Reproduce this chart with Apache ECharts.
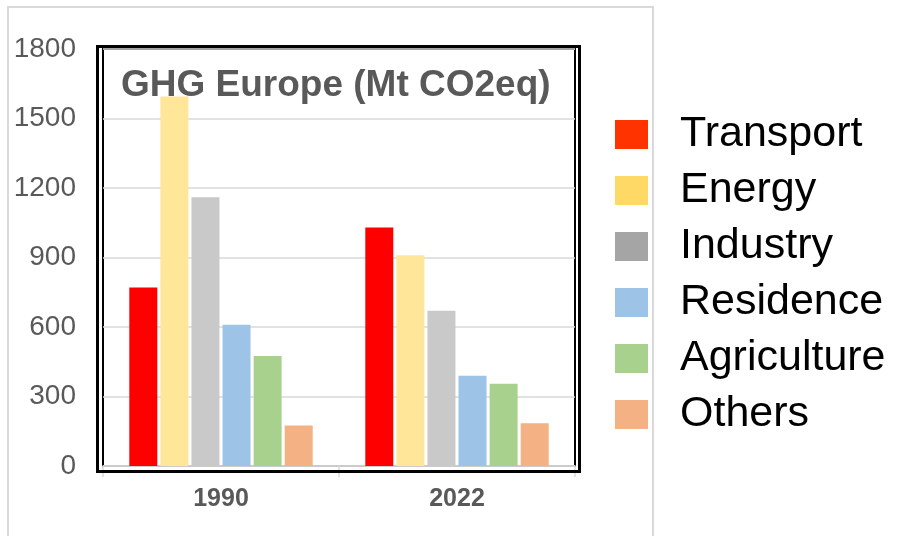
<!DOCTYPE html>
<html>
<head>
<meta charset="utf-8">
<script src="https://cdn.jsdelivr.net/npm/echarts@6/dist/echarts.min.js"></script>
<style>
  html, body { margin: 0; padding: 0; background: #fff; }
  #main { width: 899px; height: 536px; }
</style>
</head>
<body>
<div id="main"></div>
<script>
const years = ['1990', '2022']
const sectors = ['Transport', 'Energy', 'Industry', 'Residence', 'Agriculture', 'Others']
const transport = [770, 1030]
const energy = [1595, 910]
const industry = [1160, 670]
const residence = [610, 390]
const agriculture = [475, 355]
const others = [175, 185]
const yTicks = [0, 300, 600, 900, 1200, 1500, 1800]

const barColors = ['#FF0000', '#FFE699', '#C9C9C9', '#9DC3E6', '#A9D18E', '#F4B183']
const legendColors = ['#FF3300', '#FFD966', '#A5A5A5', '#9DC3E6', '#A9D18E', '#F4B183']
const values = [transport, energy, industry, residence, agriculture, others]

const chart = echarts.init(document.getElementById('main'))
const font = '"Liberation Sans", Arial, sans-serif'

chart.setOption({
  backgroundColor: '#fff',
  animation: false,
  textStyle: { fontFamily: font },
  title: {
    text: 'GHG Europe (Mt CO2eq)',
    left: 121,
    top: 67,
    padding: 0,
    textStyle: { fontFamily: font, fontSize: 37, fontWeight: 'bold', color: '#595959' }
  },
  legend: {
    orient: 'vertical',
    left: 615,
    top: 113,
    padding: 0,
    itemWidth: 33,
    itemHeight: 29,
    itemGap: 13,
    icon: 'rect',
    selectedMode: false,
    textStyle: { fontFamily: font, fontSize: 43, color: '#000', padding: [0, 0, 0, 27] },
    data: sectors.map((s, i) => ({ name: s, itemStyle: { color: legendColors[i] } }))
  },
  grid: {
    left: 103, right: 324, top: 49, bottom: 70,
    show: true, borderColor: '#000', borderWidth: 2, backgroundColor: 'transparent'
  },
  xAxis: {
    type: 'category',
    data: years,
    axisLine: { show: true, lineStyle: { color: '#D9D9D9', width: 1.5 } },
    axisTick: { show: true, length: 11, lineStyle: { color: '#D9D9D9', width: 1.5 } },
    axisLabel: { margin: 21, fontFamily: font, fontSize: 25, fontWeight: 'bold', color: '#595959' }
  },
  yAxis: {
    type: 'value',
    min: yTicks[0],
    max: yTicks[yTicks.length - 1],
    interval: 300,
    axisLine: { show: false },
    axisTick: { show: false },
    splitLine: { lineStyle: { color: '#D9D9D9', width: 1.5 } },
    axisLabel: { margin: 27, fontFamily: font, fontSize: 28, color: '#595959', formatter: v => String(v) }
  },
  series: sectors.map((s, i) => ({
    name: s,
    type: 'bar',
    data: values[i],
    barWidth: 28,
    barGap: '11%',
    itemStyle: { color: barColors[i] }
  })),
  graphic: [
    {
      type: 'rect',
      shape: { x: 8, y: 7, width: 645, height: 560 },
      style: { fill: 'none', stroke: '#D9D9D9', lineWidth: 2 },
      silent: true, z: -10
    },
    {
      type: 'rect',
      shape: { x: 97.5, y: 46.5, width: 482, height: 425 },
      style: { fill: 'none', stroke: '#000', lineWidth: 3 },
      silent: true, z: 10
    }
  ]
})
</script>
</body>
</html>
